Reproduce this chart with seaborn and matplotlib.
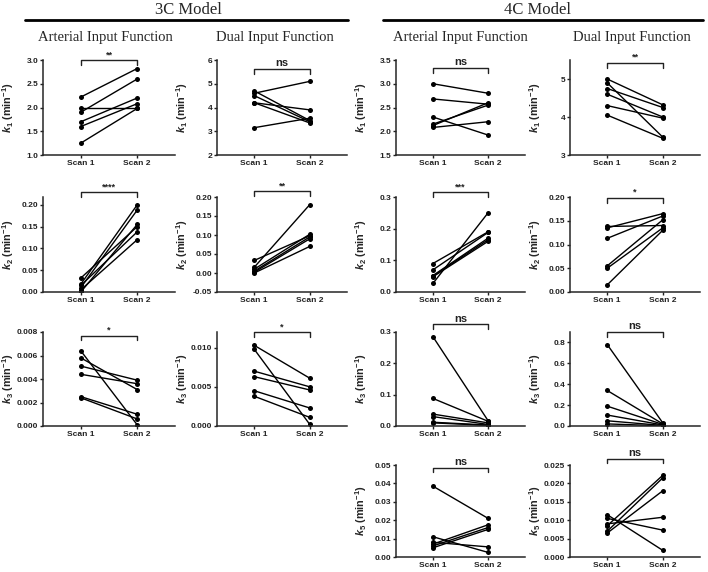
import numpy as np
import pandas as pd
import matplotlib
matplotlib.use("Agg")
import matplotlib.pyplot as plt
import matplotlib.transforms as mtransforms
import seaborn as sns

# ---- data: paired values per subject (Scan 1 -> Scan 2) ----
# 3C model, arterial input function
c3_aif_k1_s1 = [2.22, 1.90, 2.00, 1.70, 1.60, 1.25]
c3_aif_k1_s2 = [2.82, 2.60, 2.00, 2.20, 2.08, 1.98]
c3_aif_k2_s1 = [0.032, 0.018, 0.015, 0.010, 0.005, 0.000]
c3_aif_k2_s2 = [0.150, 0.200, 0.138, 0.188, 0.120, 0.155]
c3_aif_k3_s1 = [0.0064, 0.0058, 0.0051, 0.0044, 0.0025, 0.0024]
c3_aif_k3_s2 = [0.0001, 0.0031, 0.0039, 0.0036, 0.0010, 0.0006]
# 3C model, dual input function
c3_dif_k1_s1 = [4.60, 4.70, 4.50, 4.20, 4.20, 3.15]
c3_dif_k1_s2 = [5.10, 3.45, 3.40, 3.90, 3.35, 3.55]
c3_dif_k2_s1 = [0.033, 0.015, 0.010, 0.005, 0.002, 0.000]
c3_dif_k2_s2 = [0.098, 0.180, 0.102, 0.095, 0.090, 0.070]
c3_dif_k3_s1 = [0.0103, 0.0098, 0.0070, 0.0063, 0.0045, 0.0038]
c3_dif_k3_s2 = [0.0061, 0.0002, 0.0050, 0.0046, 0.0023, 0.0011]
# 4C model, arterial input function
c4_aif_k1_s1 = [3.00, 2.68, 2.30, 2.15, 2.12, 2.08]
c4_aif_k1_s2 = [2.80, 2.57, 1.92, 2.55, 2.60, 2.20]
c4_aif_k2_s1 = [0.090, 0.070, 0.052, 0.050, 0.048, 0.027]
c4_aif_k2_s2 = [0.190, 0.188, 0.170, 0.165, 0.160, 0.250]
c4_aif_k3_s1 = [0.285, 0.088, 0.038, 0.030, 0.012, 0.010]
c4_aif_k3_s2 = [0.017, 0.015, 0.010, 0.005, 0.003, 0.002]
c4_aif_k5_s1 = [0.0385, 0.0110, 0.0080, 0.0070, 0.0060, 0.0050]
c4_aif_k5_s2 = [0.0210, 0.0025, 0.0055, 0.0175, 0.0160, 0.0150]
# 4C model, dual input function
c4_dif_k1_s1 = [5.00, 4.90, 4.75, 4.60, 4.30, 4.05]
c4_dif_k1_s2 = [4.32, 3.47, 4.25, 4.00, 3.97, 3.44]
c4_dif_k2_s1 = [0.138, 0.135, 0.113, 0.055, 0.050, 0.015]
c4_dif_k2_s2 = [0.140, 0.165, 0.160, 0.152, 0.135, 0.130]
c4_dif_k3_s1 = [0.780, 0.340, 0.190, 0.105, 0.050, 0.020]
c4_dif_k3_s2 = [0.030, 0.020, 0.015, 0.010, 0.005, 0.002]
c4_dif_k5_s1 = [0.0115, 0.0105, 0.0090, 0.0085, 0.0070, 0.0065]
c4_dif_k5_s2 = [0.0018, 0.0073, 0.0108, 0.0222, 0.0215, 0.0180]

scan_labels = ["Scan 1", "Scan 2"]

sns.set_style("ticks")
plt.rcParams["font.family"] = ["Liberation Sans", "DejaVu Sans"]
plt.rcParams["font.weight"] = "bold"
plt.rcParams["mathtext.fontset"] = "custom"
plt.rcParams["mathtext.it"] = "Liberation Sans:italic:bold"
plt.rcParams["mathtext.rm"] = "Liberation Sans:bold"
plt.rcParams["axes.linewidth"] = 1.1

fig = plt.figure(figsize=(7.08, 5.72), dpi=100)
W, H = 708.0, 572.0

cols = [(43, 175), (217, 347), (396, 525), (570, 700)]
rows = [(60, 155), (197, 292), (332, 426), (465, 557)]

# panel spec: (col, row, s1, s2, label, ylim, ticks, fmt, sig, bracket_y)
panels = [
    (0, 0, c3_aif_k1_s1, c3_aif_k1_s2, "k_1", (1, 3), np.arange(1, 3.01, 0.5), "%.1f", "**", 1.0),
    (0, 1, c3_aif_k2_s1, c3_aif_k2_s2, "k_2", (0, 0.218), np.arange(0, 0.201, 0.05), "%.2f", "****", 1.05),
    (0, 2, c3_aif_k3_s1, c3_aif_k3_s2, "k_3", (0, 0.008), np.arange(0, 0.0081, 0.002), "%.3f", "*", 0.96),
    (1, 0, c3_dif_k1_s1, c3_dif_k1_s2, "k_1", (2, 6), np.arange(2, 6.01, 1), "%d", "ns", 0.905),
    (1, 1, c3_dif_k2_s1, c3_dif_k2_s2, "k_2", (-0.05, 0.2), np.arange(-0.05, 0.201, 0.05), "%.2f", "**", 1.06),
    (1, 2, c3_dif_k3_s1, c3_dif_k3_s2, "k_3", (0, 0.012), np.arange(0, 0.0101, 0.005), "%.3f", "*", 1.0),
    (2, 0, c4_aif_k1_s1, c4_aif_k1_s2, "k_1", (1.5, 3.5), np.arange(1.5, 3.51, 0.5), "%.1f", "ns", 0.915),
    (2, 1, c4_aif_k2_s1, c4_aif_k2_s2, "k_2", (0, 0.3), np.arange(0, 0.301, 0.1), "%.1f", "***", 1.05),
    (2, 2, c4_aif_k3_s1, c4_aif_k3_s2, "k_3", (0, 0.3), np.arange(0, 0.301, 0.1), "%.1f", "ns", 1.08),
    (2, 3, c4_aif_k5_s1, c4_aif_k5_s2, "k_5", (0, 0.05), np.arange(0, 0.0501, 0.01), "%.2f", "ns", 0.97),
    (3, 0, c4_dif_k1_s1, c4_dif_k1_s2, "k_1", (3, 5.5), np.arange(3, 5.01, 1), "%d", "**", 0.97),
    (3, 1, c4_dif_k2_s1, c4_dif_k2_s2, "k_2", (0, 0.2), np.arange(0, 0.201, 0.05), "%.2f", "*", 0.99),
    (3, 2, c4_dif_k3_s1, c4_dif_k3_s2, "k_3", (0, 0.9), np.arange(0, 0.81, 0.2), "%.1f", "ns", 1.0),
    (3, 3, c4_dif_k5_s1, c4_dif_k5_s2, "k_5", (0, 0.025), np.arange(0, 0.0251, 0.005), "%.3f", "ns", 1.07),
]

for c, r, s1, s2, lab, ylim, ticks, fmt, sig, by in panels:
    x0, x1 = cols[c]
    y0, y1 = rows[r]
    ax = fig.add_axes([x0 / W, 1 - y1 / H, (x1 - x0) / W, (y1 - y0) / H])
    n = len(s1)
    df = pd.DataFrame({
        "subject": list(range(n)) * 2,
        "scan": [0] * n + [1] * n,
        "value": list(s1) + list(s2),
    })
    sns.lineplot(data=df, x="scan", y="value", units="subject", estimator=None,
                 color="black", marker="o", markersize=3.6, markeredgewidth=0,
                 linewidth=1.0, ax=ax)
    ax.set_xlim(-0.67, 1.67)
    ax.set_ylim(*ylim)
    ax.set_xticks([0, 1])
    ax.set_xticklabels(scan_labels)
    ax.set_yticks(ticks)
    ax.set_yticklabels([fmt % t for t in ticks])
    ax.set_xlabel("")
    ax.set_ylabel(r"$%s$ (min$^{\mathrm{-1}}$)" % lab, fontsize=7.8, fontweight="bold")
    # fixed label position: right edge ~27 px left of the spine
    ax.yaxis.set_label_coords(-27.0 / (x1 - x0), 0.5)
    ax.tick_params(labelsize=6, width=1.0, length=2.5, pad=1, colors="#222222")
    sns.despine(ax=ax)

    # significance bracket
    tr = mtransforms.blended_transform_factory(ax.transData, ax.transAxes)
    ax.plot([0, 0, 1, 1], [by - 0.05, by, by, by - 0.05], color="#222222",
            lw=1.0, transform=tr, clip_on=False)
    ax.text(0.5, by + 0.01, sig, transform=tr, ha="center", va="bottom",
            fontsize=8 if sig == "ns" else 6.5, fontweight="bold", color="#222222")

# headers
serif = ["Liberation Serif", "DejaVu Serif"]
fig.text(188 / W, 1 - 10 / H, "3C Model", ha="center", va="center", family=serif,
         fontsize=12, fontweight="normal")
fig.text(538 / W, 1 - 10 / H, "4C Model", ha="center", va="center", family=serif,
         fontsize=12, fontweight="normal")
fig.add_artist(plt.Line2D([25 / W, 348 / W], [1 - 20 / H, 1 - 20 / H], color="black", lw=2))
fig.add_artist(plt.Line2D([383 / W, 703 / W], [1 - 20 / H, 1 - 20 / H], color="black", lw=2))

for xc, t in [(105, "Arterial Input Function"), (275, "Dual Input Function"),
              (460, "Arterial Input Function"), (632, "Dual Input Function")]:
    fig.text(xc / W, 1 - 37 / H, t, ha="center", va="center", family=serif,
             fontsize=10.5, fontweight="normal")

fig.savefig("out.png", dpi=100)
